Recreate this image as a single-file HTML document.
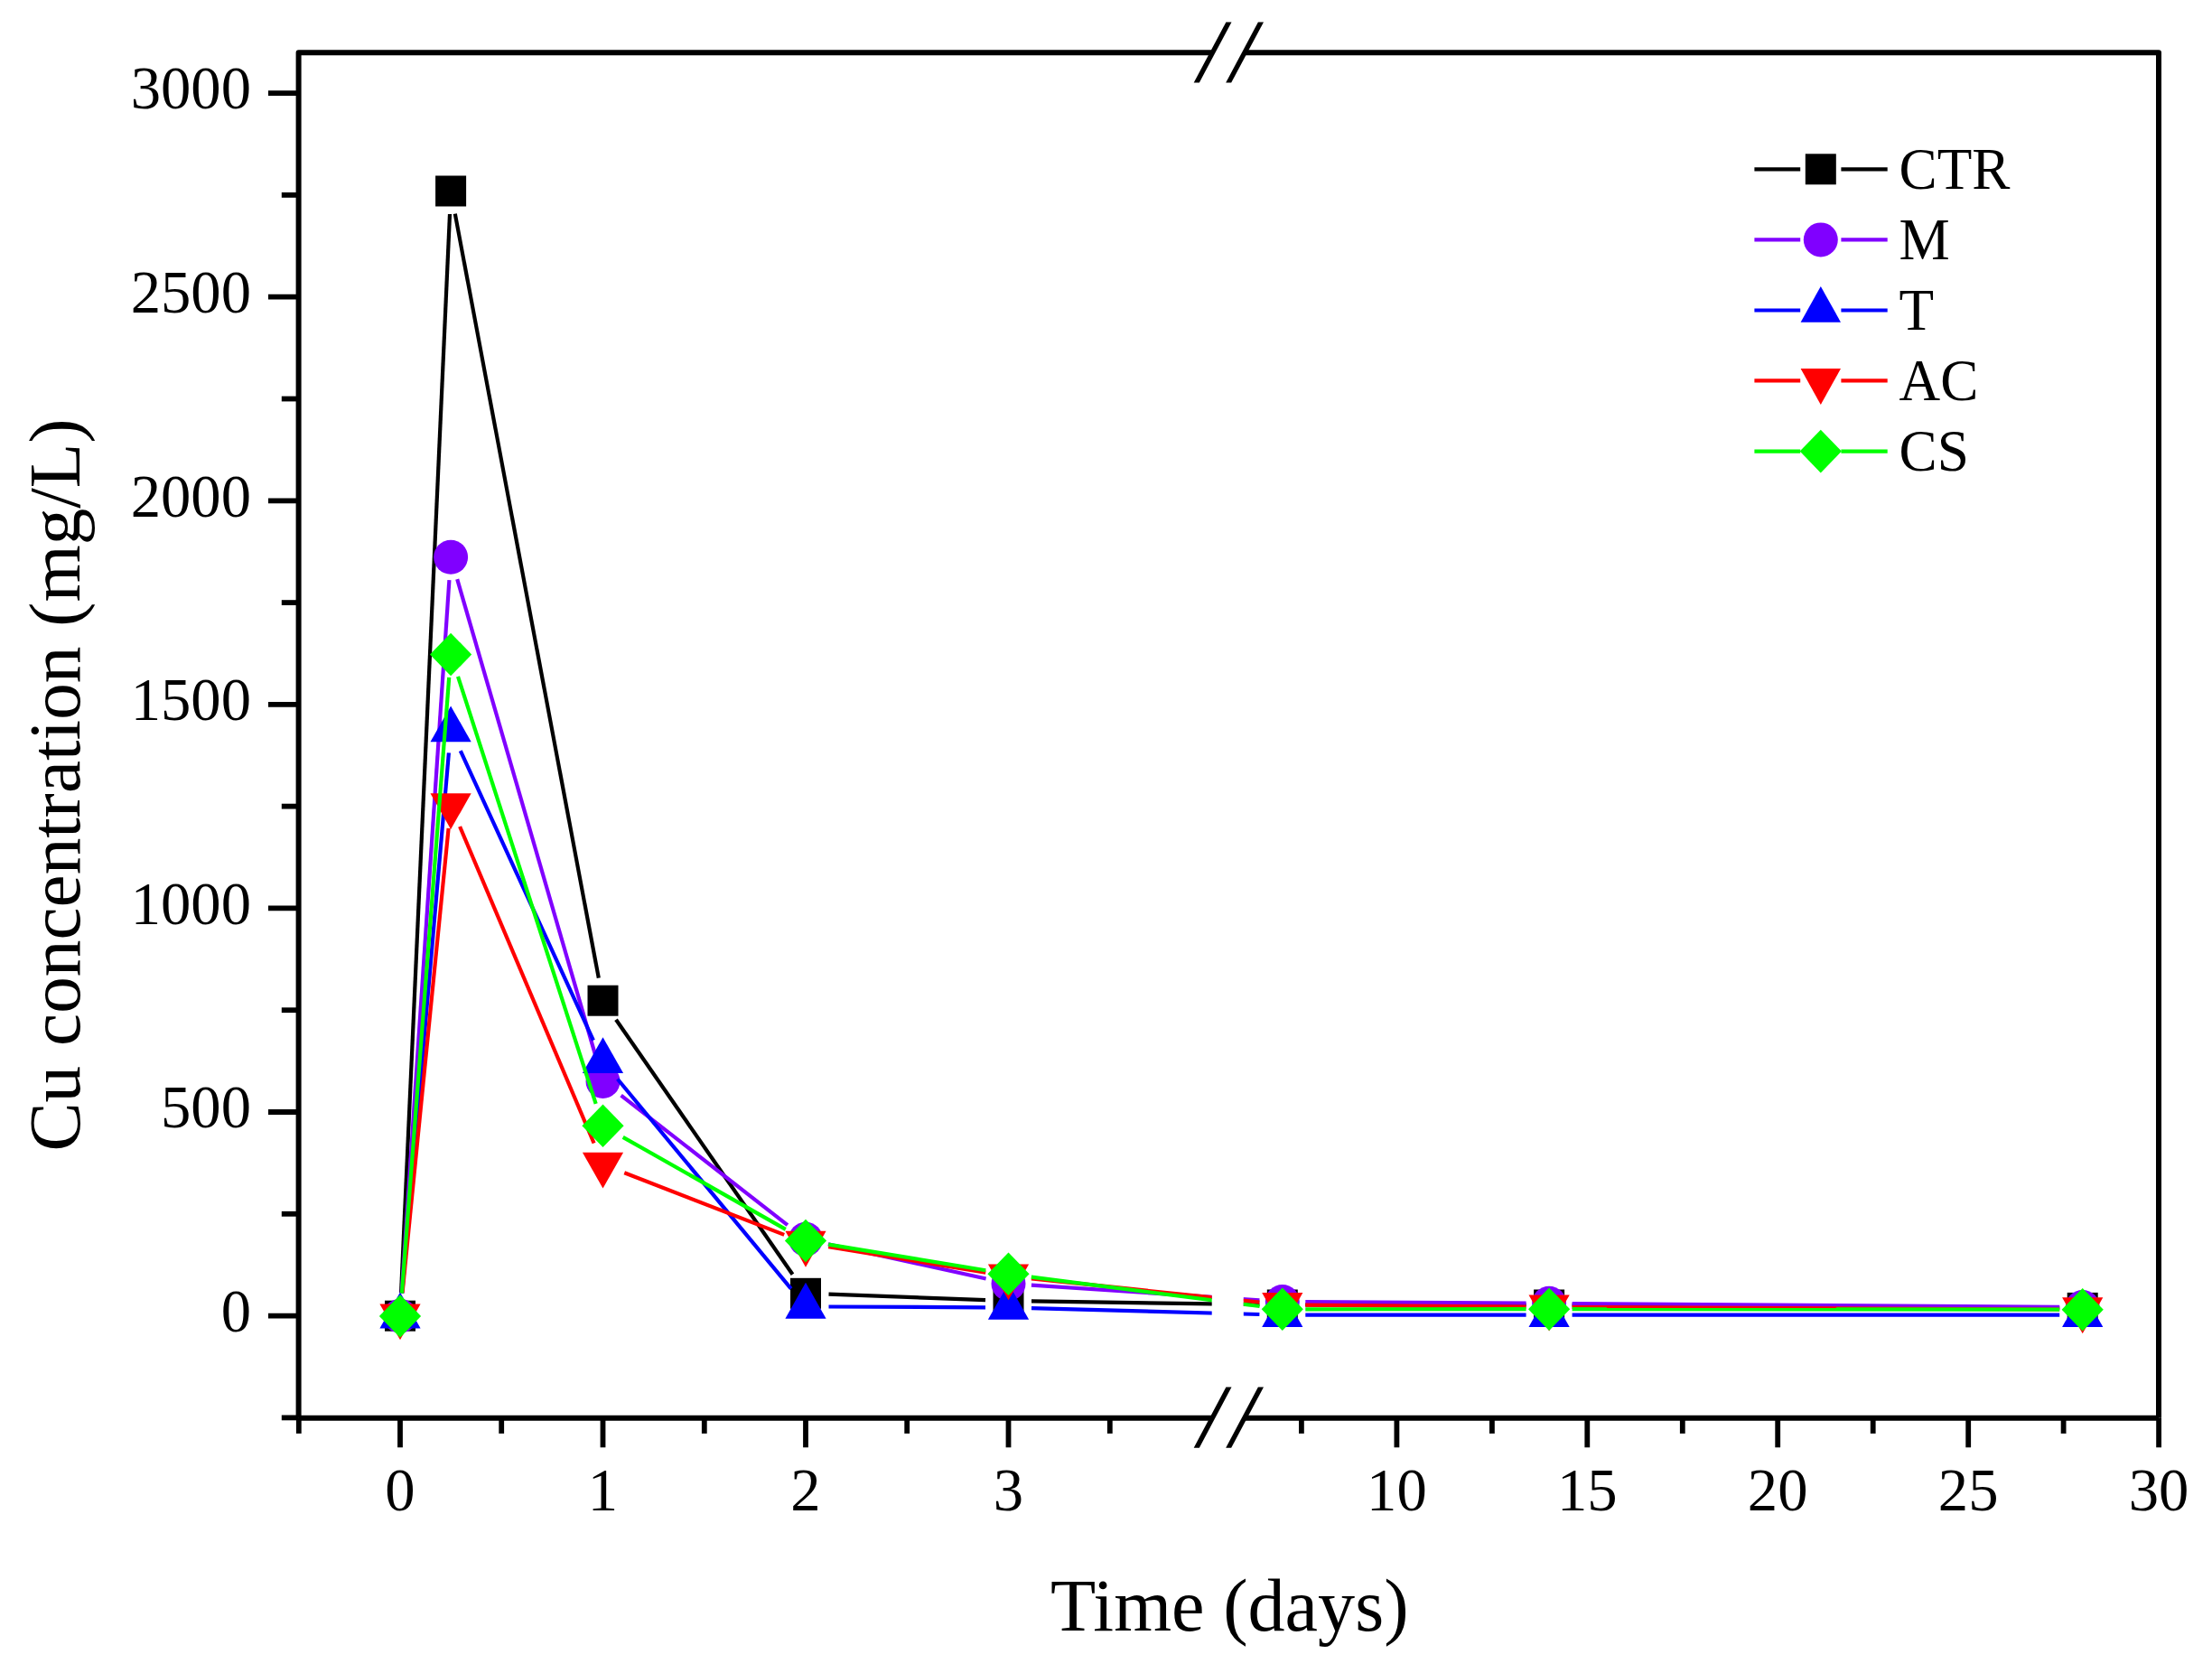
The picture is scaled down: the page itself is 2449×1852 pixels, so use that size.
<!DOCTYPE html>
<html><head><meta charset="utf-8"><title>Cu concentration</title>
<style>html,body{margin:0;padding:0;background:#fff}body{width:2449px;height:1852px;overflow:hidden}</style></head>
<body>
<svg width="2449" height="1852" viewBox="0 0 2449 1852" style="display:block">
<rect width="2449" height="1852" fill="#fff"/>
<defs><clipPath id="cl"><rect x="0" y="0" width="1341.7" height="1852"/><rect x="1376.8" y="0" width="1072.2" height="1852"/></clipPath></defs><g>
<g clip-path="url(#cl)" stroke="#000000" stroke-width="4.2" fill="none"><line x1="444.1" y1="1431.2" x2="498.0" y2="237.0"/><line x1="503.8" y1="236.6" x2="662.8" y2="1082.6"/><line x1="682.0" y1="1128.7" x2="877.5" y2="1410.8"/><line x1="917.5" y1="1432.7" x2="1091.0" y2="1439.1"/><line x1="1142.0" y1="1440.4" x2="1394.3" y2="1444.1"/><line x1="1445.3" y1="1444.5" x2="1689.6" y2="1444.5"/><line x1="1740.6" y1="1444.6" x2="2280.2" y2="1447.8"/></g>
<g><rect x="426.0" y="1439.7" width="34" height="34" fill="#000000"/><rect x="482.1" y="194.5" width="34" height="34" fill="#000000"/><rect x="650.5" y="1090.7" width="34" height="34" fill="#000000"/><rect x="875.0" y="1414.8" width="34" height="34" fill="#000000"/><rect x="1099.5" y="1423.0" width="34" height="34" fill="#000000"/><rect x="1402.8" y="1427.5" width="34" height="34" fill="#000000"/><rect x="1698.1" y="1427.5" width="34" height="34" fill="#000000"/><rect x="2288.7" y="1430.9" width="34" height="34" fill="#000000"/></g>
<g clip-path="url(#cl)" stroke="#8000FF" stroke-width="4.2" fill="none"><line x1="444.7" y1="1431.3" x2="497.4" y2="642.1"/><line x1="506.2" y1="641.2" x2="660.4" y2="1172.4"/><line x1="687.6" y1="1212.6" x2="871.9" y2="1356.1"/><line x1="916.9" y1="1377.3" x2="1091.6" y2="1415.5"/><line x1="1141.9" y1="1422.7" x2="1394.4" y2="1439.3"/><line x1="1445.3" y1="1441.2" x2="1689.6" y2="1442.6"/><line x1="1740.6" y1="1443.0" x2="2280.2" y2="1446.8"/></g>
<g><circle cx="443.0" cy="1456.7" r="19" fill="#8000FF"/><circle cx="499.1" cy="616.7" r="19" fill="#8000FF"/><circle cx="667.5" cy="1196.9" r="19" fill="#8000FF"/><circle cx="892.0" cy="1371.8" r="19" fill="#8000FF"/><circle cx="1116.5" cy="1421.0" r="19" fill="#8000FF"/><circle cx="1419.8" cy="1441.0" r="19" fill="#8000FF"/><circle cx="1715.1" cy="1442.8" r="19" fill="#8000FF"/><circle cx="2305.7" cy="1447.0" r="19" fill="#8000FF"/></g>
<g clip-path="url(#cl)" stroke="#0000FF" stroke-width="4.2" fill="none"><line x1="445.2" y1="1431.7" x2="496.9" y2="833.4"/><line x1="509.8" y1="831.2" x2="656.9" y2="1151.6"/><line x1="683.7" y1="1194.5" x2="875.8" y2="1426.7"/><line x1="917.5" y1="1446.5" x2="1091.0" y2="1447.3"/><line x1="1142.0" y1="1448.1" x2="1394.4" y2="1455.0"/><line x1="1445.3" y1="1455.7" x2="1689.6" y2="1455.7"/><line x1="1740.6" y1="1455.7" x2="2280.2" y2="1455.7"/></g>
<g><polygon points="443.0,1430.5 465.6,1470.4 420.4,1470.4" fill="#0000FF"/><polygon points="499.1,781.4 521.7,821.3 476.5,821.3" fill="#0000FF"/><polygon points="667.5,1148.2 690.1,1188.1 644.9,1188.1" fill="#0000FF"/><polygon points="892.0,1419.8 914.6,1459.7 869.4,1459.7" fill="#0000FF"/><polygon points="1116.5,1420.8 1139.1,1460.7 1093.9,1460.7" fill="#0000FF"/><polygon points="1419.8,1429.1 1442.4,1469.0 1397.2,1469.0" fill="#0000FF"/><polygon points="1715.1,1429.1 1737.7,1469.0 1692.5,1469.0" fill="#0000FF"/><polygon points="2305.7,1429.1 2328.3,1469.0 2283.1,1469.0" fill="#0000FF"/></g>
<g clip-path="url(#cl)" stroke="#FF0000" stroke-width="4.2" fill="none"><line x1="445.5" y1="1431.3" x2="496.6" y2="916.9"/><line x1="509.1" y1="915.0" x2="657.6" y2="1265.5"/><line x1="691.3" y1="1298.2" x2="868.2" y2="1366.9"/><line x1="917.2" y1="1380.2" x2="1091.3" y2="1408.6"/><line x1="1141.9" y1="1415.4" x2="1394.5" y2="1441.7"/><line x1="1445.3" y1="1444.6" x2="1689.6" y2="1446.7"/><line x1="1740.6" y1="1447.0" x2="2280.2" y2="1449.5"/></g>
<g><polygon points="443.0,1483.3 465.6,1443.4 420.4,1443.4" fill="#FF0000"/><polygon points="499.1,918.1 521.7,878.2 476.5,878.2" fill="#FF0000"/><polygon points="667.5,1315.6 690.1,1275.7 644.9,1275.7" fill="#FF0000"/><polygon points="892.0,1402.7 914.6,1362.8 869.4,1362.8" fill="#FF0000"/><polygon points="1116.5,1439.3 1139.1,1399.4 1093.9,1399.4" fill="#FF0000"/><polygon points="1419.8,1471.0 1442.4,1431.1 1397.2,1431.1" fill="#FF0000"/><polygon points="1715.1,1473.5 1737.7,1433.6 1692.5,1433.6" fill="#FF0000"/><polygon points="2305.7,1476.2 2328.3,1436.3 2283.1,1436.3" fill="#FF0000"/></g>
<g clip-path="url(#cl)" stroke="#00FF00" stroke-width="4.2" fill="none"><line x1="444.9" y1="1431.6" x2="497.2" y2="749.9"/><line x1="507.0" y1="748.8" x2="659.7" y2="1221.9"/><line x1="689.7" y1="1258.8" x2="869.8" y2="1360.9"/><line x1="917.2" y1="1377.6" x2="1091.3" y2="1406.2"/><line x1="1141.8" y1="1413.6" x2="1394.6" y2="1446.0"/><line x1="1445.3" y1="1449.3" x2="1689.6" y2="1449.2"/><line x1="1740.6" y1="1449.2" x2="2280.2" y2="1449.7"/></g>
<g><polygon points="443.0,1433.2 466.1,1457.0 443.0,1480.8 419.9,1457.0" fill="#00FF00"/><polygon points="499.1,700.7 522.2,724.5 499.1,748.3 476.0,724.5" fill="#00FF00"/><polygon points="667.5,1222.4 690.6,1246.2 667.5,1270.0 644.4,1246.2" fill="#00FF00"/><polygon points="892.0,1349.7 915.1,1373.5 892.0,1397.3 868.9,1373.5" fill="#00FF00"/><polygon points="1116.5,1386.5 1139.6,1410.3 1116.5,1434.1 1093.4,1410.3" fill="#00FF00"/><polygon points="1419.8,1425.5 1442.9,1449.3 1419.8,1473.1 1396.7,1449.3" fill="#00FF00"/><polygon points="1715.1,1425.4 1738.2,1449.2 1715.1,1473.0 1692.0,1449.2" fill="#00FF00"/><polygon points="2305.7,1425.9 2328.8,1449.7 2305.7,1473.5 2282.6,1449.7" fill="#00FF00"/></g>
<g stroke="#000" stroke-width="6" fill="none" stroke-linecap="butt"><path d="M330.6,1569.8 L330.6,58.2 L1342,58.2" stroke-linejoin="round"/><path d="M1377.5,58.2 L2390.0,58.2 L2390.0,1569.8" stroke-linejoin="round"/><line x1="330.6" y1="1569.8" x2="1342" y2="1569.8"/><line x1="1377.5" y1="1569.8" x2="2390.0" y2="1569.8"/><polygon points="1321.7,91.6 1327.8,91.6 1363.5,24.4 1357.4,24.4" fill="#000" stroke="none"/><polygon points="1357.2,91.6 1363.2,91.6 1399.0,24.4 1392.9,24.4" fill="#000" stroke="none"/><polygon points="1321.7,1602.7 1327.8,1602.7 1363.5,1535.5 1357.4,1535.5" fill="#000" stroke="none"/><polygon points="1357.2,1602.7 1363.2,1602.7 1399.0,1535.5 1392.9,1535.5" fill="#000" stroke="none"/></g>
<g stroke="#000" stroke-width="5.8" stroke-linecap="butt"><line x1="311.8" y1="1569.4" x2="330.6" y2="1569.4"/><line x1="297.0" y1="1456.6" x2="330.6" y2="1456.6"/><line x1="311.8" y1="1343.8" x2="330.6" y2="1343.8"/><line x1="297.0" y1="1231.0" x2="330.6" y2="1231.0"/><line x1="311.8" y1="1118.2" x2="330.6" y2="1118.2"/><line x1="297.0" y1="1005.4" x2="330.6" y2="1005.4"/><line x1="311.8" y1="892.6" x2="330.6" y2="892.6"/><line x1="297.0" y1="779.8" x2="330.6" y2="779.8"/><line x1="311.8" y1="667.1" x2="330.6" y2="667.1"/><line x1="297.0" y1="554.3" x2="330.6" y2="554.3"/><line x1="311.8" y1="441.5" x2="330.6" y2="441.5"/><line x1="297.0" y1="328.7" x2="330.6" y2="328.7"/><line x1="311.8" y1="215.9" x2="330.6" y2="215.9"/><line x1="297.0" y1="103.1" x2="330.6" y2="103.1"/><line x1="330.8" y1="1569.8" x2="330.8" y2="1586.9"/><line x1="443.0" y1="1569.8" x2="443.0" y2="1602.3"/><line x1="555.2" y1="1569.8" x2="555.2" y2="1586.9"/><line x1="667.5" y1="1569.8" x2="667.5" y2="1602.3"/><line x1="779.8" y1="1569.8" x2="779.8" y2="1586.9"/><line x1="892.0" y1="1569.8" x2="892.0" y2="1602.3"/><line x1="1004.2" y1="1569.8" x2="1004.2" y2="1586.9"/><line x1="1116.5" y1="1569.8" x2="1116.5" y2="1602.3"/><line x1="1228.8" y1="1569.8" x2="1228.8" y2="1586.9"/><line x1="1440.9" y1="1569.8" x2="1440.9" y2="1586.9"/><line x1="1546.4" y1="1569.8" x2="1546.4" y2="1602.3"/><line x1="1651.9" y1="1569.8" x2="1651.9" y2="1586.9"/><line x1="1757.3" y1="1569.8" x2="1757.3" y2="1602.3"/><line x1="1862.8" y1="1569.8" x2="1862.8" y2="1586.9"/><line x1="1968.2" y1="1569.8" x2="1968.2" y2="1602.3"/><line x1="2073.7" y1="1569.8" x2="2073.7" y2="1586.9"/><line x1="2179.2" y1="1569.8" x2="2179.2" y2="1602.3"/><line x1="2284.6" y1="1569.8" x2="2284.6" y2="1586.9"/><line x1="2390.1" y1="1569.8" x2="2390.1" y2="1602.3"/></g>
<g font-family="'Liberation Serif', serif" font-size="68.6" fill="#000"><text transform="translate(278,1473.9) scale(0.972,1)" text-anchor="end">0</text><text transform="translate(278,1248.3) scale(0.972,1)" text-anchor="end">500</text><text transform="translate(278,1022.7) scale(0.972,1)" text-anchor="end">1000</text><text transform="translate(278,797.1) scale(0.972,1)" text-anchor="end">1500</text><text transform="translate(278,571.6) scale(0.972,1)" text-anchor="end">2000</text><text transform="translate(278,346.0) scale(0.972,1)" text-anchor="end">2500</text><text transform="translate(278,120.4) scale(0.972,1)" text-anchor="end">3000</text><text transform="translate(443.0,1671.5) scale(0.972,1)" text-anchor="middle">0</text><text transform="translate(667.5,1671.5) scale(0.972,1)" text-anchor="middle">1</text><text transform="translate(892.0,1671.5) scale(0.972,1)" text-anchor="middle">2</text><text transform="translate(1116.5,1671.5) scale(0.972,1)" text-anchor="middle">3</text><text transform="translate(1546.4,1671.5) scale(0.972,1)" text-anchor="middle">10</text><text transform="translate(1757.3,1671.5) scale(0.972,1)" text-anchor="middle">15</text><text transform="translate(1968.2,1671.5) scale(0.972,1)" text-anchor="middle">20</text><text transform="translate(2179.2,1671.5) scale(0.972,1)" text-anchor="middle">25</text><text transform="translate(2390.1,1671.5) scale(0.972,1)" text-anchor="middle">30</text></g>
<text x="1361.3" y="1804.6" text-anchor="middle" font-family="'Liberation Serif', serif" font-size="82.2" fill="#000">Time (days)</text>
<text transform="translate(88.2,869) rotate(-90)" text-anchor="middle" word-spacing="1.5" font-family="'Liberation Serif', serif" font-size="81.3" fill="#000">Cu concentration (mg/L)</text>
<g stroke="#000000" stroke-width="4.2"><line x1="1942.4" y1="187.3" x2="1993.2" y2="187.3"/><line x1="2038.4" y1="187.3" x2="2089.7" y2="187.3"/></g><rect x="1998.8" y="170.3" width="34" height="34" fill="#000000"/><text transform="translate(2102.5,208.5) scale(0.968,1)" font-family="'Liberation Serif', serif" font-size="65.3" fill="#000">CTR</text><g stroke="#8000FF" stroke-width="4.2"><line x1="1942.4" y1="265.4" x2="1993.2" y2="265.4"/><line x1="2038.4" y1="265.4" x2="2089.7" y2="265.4"/></g><circle cx="2015.8" cy="265.4" r="19" fill="#8000FF"/><text transform="translate(2102.5,286.6) scale(0.968,1)" font-family="'Liberation Serif', serif" font-size="65.3" fill="#000">M</text><g stroke="#0000FF" stroke-width="4.2"><line x1="1942.4" y1="343.5" x2="1993.2" y2="343.5"/><line x1="2038.4" y1="343.5" x2="2089.7" y2="343.5"/></g><polygon points="2015.8,316.9 2038.0,356.8 1993.6,356.8" fill="#0000FF"/><text transform="translate(2102.5,364.7) scale(0.968,1)" font-family="'Liberation Serif', serif" font-size="65.3" fill="#000">T</text><g stroke="#FF0000" stroke-width="4.2"><line x1="1942.4" y1="421.4" x2="1993.2" y2="421.4"/><line x1="2038.4" y1="421.4" x2="2089.7" y2="421.4"/></g><polygon points="2015.8,448.0 2038.0,408.1 1993.6,408.1" fill="#FF0000"/><text transform="translate(2102.5,442.6) scale(0.968,1)" font-family="'Liberation Serif', serif" font-size="65.3" fill="#000">AC</text><g stroke="#00FF00" stroke-width="4.2"><line x1="1942.4" y1="499.6" x2="1993.2" y2="499.6"/><line x1="2038.4" y1="499.6" x2="2089.7" y2="499.6"/></g><polygon points="2015.8,475.8 2038.9,499.6 2015.8,523.4 1992.7,499.6" fill="#00FF00"/><text transform="translate(2102.5,520.8) scale(0.968,1)" font-family="'Liberation Serif', serif" font-size="65.3" fill="#000">CS</text>
</g></svg>
</body></html>
